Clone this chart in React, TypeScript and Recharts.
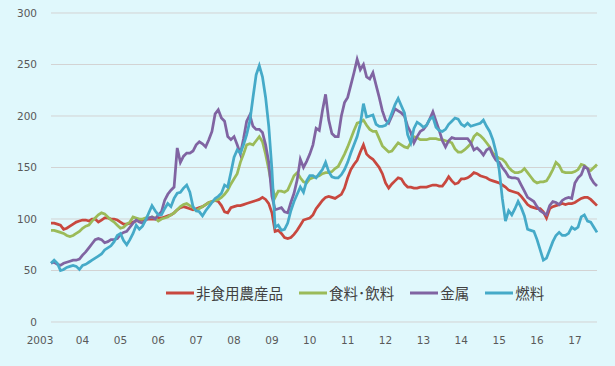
import React from "react";
import { LineChart, Line, XAxis, YAxis, CartesianGrid, Legend } from "recharts";

// monthly index, Mar 2003 .. Aug 2017 (2003 = 10 months, 2017 = 8 months)
const red = [
  96, 96, 95, 94, 90, 91, 93, 95, 97, 98,
  99, 99, 98, 100, 100, 97, 99, 101, 101, 100, 100, 99,
  97, 95, 95, 96, 97, 98, 99, 99, 100, 100, 100, 100,
  101, 101, 102, 103, 104, 106, 109, 111, 112, 111, 110, 109,
  110, 111, 112, 114, 116, 117, 118, 117, 113, 107, 106, 111,
  112, 113, 113, 114, 115, 116, 117, 118, 119, 121, 119, 115,
  106, 88, 89, 86, 82, 81, 82, 85, 89, 94, 99, 100,
  101, 104, 110, 114, 118, 121, 122, 121, 120, 122, 124, 130,
  140, 148, 153, 157, 165, 172, 163, 160, 158, 154, 150, 144,
  135, 130, 134, 137, 140, 139, 134, 131, 131, 130, 130, 131,
  131, 131, 132, 133, 133, 132, 132, 136, 141, 137, 134, 135,
  139, 139, 140, 142, 145, 144, 142, 141, 140, 138, 137, 136,
  135, 133, 131, 128, 127, 126, 125, 122, 118, 114, 112, 111,
  110, 110, 107, 101, 110, 112, 113, 114, 115, 114, 115, 115,
  116, 118, 120, 121, 121, 119, 116, 113,
];

const green = [
  89, 89, 88, 87, 86, 84, 83, 84, 86, 88,
  91, 93, 94, 98, 101, 104, 106, 105, 102, 99, 97, 94,
  91, 92, 95, 97, 102, 101, 100, 100, 101, 101, 102, 101,
  98, 100, 101, 102, 104, 106, 109, 112, 114, 115, 113, 111,
  108, 110, 112, 114, 116, 117, 118, 119, 121, 124, 128, 134,
  139, 144, 155, 163, 172, 173, 172, 176, 180, 175, 163, 148,
  132, 121, 127, 127, 126, 128, 135, 142, 145, 140, 136, 135,
  139, 140, 141, 142, 144, 145, 145, 146, 149, 151, 157, 163,
  170, 178, 186, 193, 194, 196, 191, 187, 185, 185, 178, 171,
  168, 165, 166, 170, 174, 172, 170, 169, 174, 180, 179, 177,
  177, 177, 178, 178, 178, 177, 177, 176, 175, 174, 168, 165,
  165, 167, 170, 173, 180, 183, 181, 178, 174, 170, 164, 161,
  159, 158, 155, 150, 147, 145, 145, 146, 149, 145, 141, 137,
  135, 136, 136, 137, 142, 148, 155, 152, 146, 145, 145, 145,
  146, 148, 153, 152, 149, 147, 150, 153,
];

const purple = [
  57, 58, 56, 55, 57, 58, 59, 60, 60, 61,
  65, 68, 72, 76, 80, 81, 80, 77, 78, 80, 80, 81,
  85, 87, 88, 92, 96, 99, 97, 96, 99, 101, 102, 100,
  104, 107, 118, 124, 128, 131, 169, 155, 161, 164, 164, 166,
  172, 175, 173, 170, 177, 185, 202, 206, 198, 195, 180, 177,
  180, 172, 163, 178, 195, 201, 190, 187, 187, 184, 172, 155,
  122, 109, 110, 111, 107, 106, 116, 125, 138, 158, 150, 156,
  163, 172, 188, 186, 205, 221, 196, 183, 180, 180, 200, 213,
  218, 230, 242, 255, 245, 250, 238, 236, 242, 230, 218, 205,
  196, 193, 200, 207, 205, 203, 200, 190, 184, 174, 180, 185,
  187, 191, 197, 204, 195, 186, 176, 170, 176, 179, 178, 178,
  178, 178, 178, 174, 167, 169, 166, 162, 167, 169, 162, 157,
  155, 150, 146, 141, 140, 140, 139, 133, 127, 121, 119, 117,
  112, 108, 106, 104, 113, 117, 116, 114, 118, 120, 121, 120,
  135, 140, 143, 151, 149, 140, 135, 132,
];

const cyan = [
  57, 60, 57, 50, 51, 53, 54, 55, 54, 51,
  55, 56, 58, 60, 62, 64, 66, 70, 72, 74, 78, 84,
  86, 79, 75, 80, 86, 94, 90, 93, 99, 106, 113, 108,
  104, 104, 110, 115, 112, 120, 125, 126, 130, 133, 126, 112,
  108, 107, 103, 108, 112, 116, 120, 122, 125, 133, 131, 145,
  160, 167, 164, 172, 182, 195, 218, 240, 249, 238, 218, 190,
  148, 92, 94, 89, 90, 96, 108, 117, 124, 131, 126, 137,
  142, 142, 140, 144, 148, 155, 146, 141, 140, 140, 143, 148,
  155, 164, 172, 180, 192, 212, 199, 200, 201, 192, 190, 190,
  191, 195, 203, 211, 217, 210, 203, 182, 174, 188, 194, 192,
  189, 191, 197, 199, 189, 186, 185, 187, 192, 195, 198, 197,
  192, 190, 193, 190, 191, 192, 193, 196, 190, 185, 177, 165,
  148, 120, 98, 108, 104, 110, 117, 111, 103, 90, 89, 88,
  80, 70, 60, 62, 70, 78, 84, 87, 84, 84, 86, 92,
  90, 92, 102, 104, 98, 97, 92, 87,
];

const yearTicks = [2, 12, 24, 36, 48, 60, 72, 84, 96, 108, 120, 132, 144, 156, 168];
const yearLabels = ["2003", "04", "05", "06", "07", "08", "09", "10", "11", "12", "13", "14", "15", "16", "17"];
const yTicks = [0, 50, 100, 150, 200, 250, 300];

const series = [
  { key: "red", name: "非食用農産品", color: "#C8483F" },
  { key: "green", name: "食料･飲料", color: "#9BBB59" },
  { key: "purple", name: "金属", color: "#8064A2" },
  { key: "cyan", name: "燃料", color: "#45AAC8" },
];

// t = months since Jan 2003
const data = red.map((v, i) => ({
  t: i + 2,
  red: v,
  green: green[i],
  purple: purple[i],
  cyan: cyan[i],
}));

const tickFont = { fontFamily: "DejaVu Sans", fontSize: 10.5, fill: "#595959" };

const XTick = (props: any) => {
  const { x, y, payload } = props;
  const i = yearTicks.indexOf(payload.value);
  const label = yearLabels[i] ?? "";
  return (
    <text x={i === 0 ? x - 11 : x} y={y} dy="0.71em" textAnchor="middle" {...tickFont}>
      {label}
    </text>
  );
};

const LegendBox = () => (
  <div style={{ display: "flex", alignItems: "center", fontFamily: "Noto Sans CJK JP", fontSize: 14.5, color: "#404040", lineHeight: "20px", whiteSpace: "nowrap" }}>
    {series.map((s, i) => (
      <div key={s.key} style={{ display: "flex", alignItems: "center", marginRight: i < series.length - 1 ? 16 : 0 }}>
        <svg width={28} height={6}>
          <line x1={0} y1={3} x2={28} y2={3} stroke={s.color} strokeWidth={3} />
        </svg>
        <span style={{ marginLeft: 2 }}>{s.name}</span>
      </div>
    ))}
  </div>
);

export default function App() {
  return (
    <div style={{ position: "absolute", left: 0, top: 0, width: 615, height: 366, background: "#E0F8FC" }}>
      <LineChart width={615} height={366} data={data} margin={{ top: 13, right: 18, bottom: 14, left: 0 }}>
        <CartesianGrid vertical={false} stroke="#D3D3D3" strokeWidth={1} />
        <XAxis
          dataKey="t"
          type="number"
          domain={[2, 175]}
          ticks={yearTicks}
          interval={0}
          axisLine={false}
          tickLine={false}
          tickSize={0}
          tickMargin={15}
          height={30}
          tick={<XTick />}
        />
        <YAxis
          domain={[0, 300]}
          ticks={yTicks}
          interval={0}
          axisLine={false}
          tickLine={false}
          tickSize={0}
          tickMargin={14}
          width={51}
          tick={tickFont}
        />
        <Legend
          layout="horizontal"
          verticalAlign="middle"
          align="center"
          content={<LegendBox />}
          wrapperStyle={{ left: 166, top: 283, width: "auto" }}
        />
        {series.map((s) => (
          <Line
            key={s.key}
            type="linear"
            dataKey={s.key}
            name={s.name}
            stroke={s.color}
            strokeWidth={2.75}
            dot={false}
            isAnimationActive={false}
          />
        ))}
      </LineChart>
    </div>
  );
}
